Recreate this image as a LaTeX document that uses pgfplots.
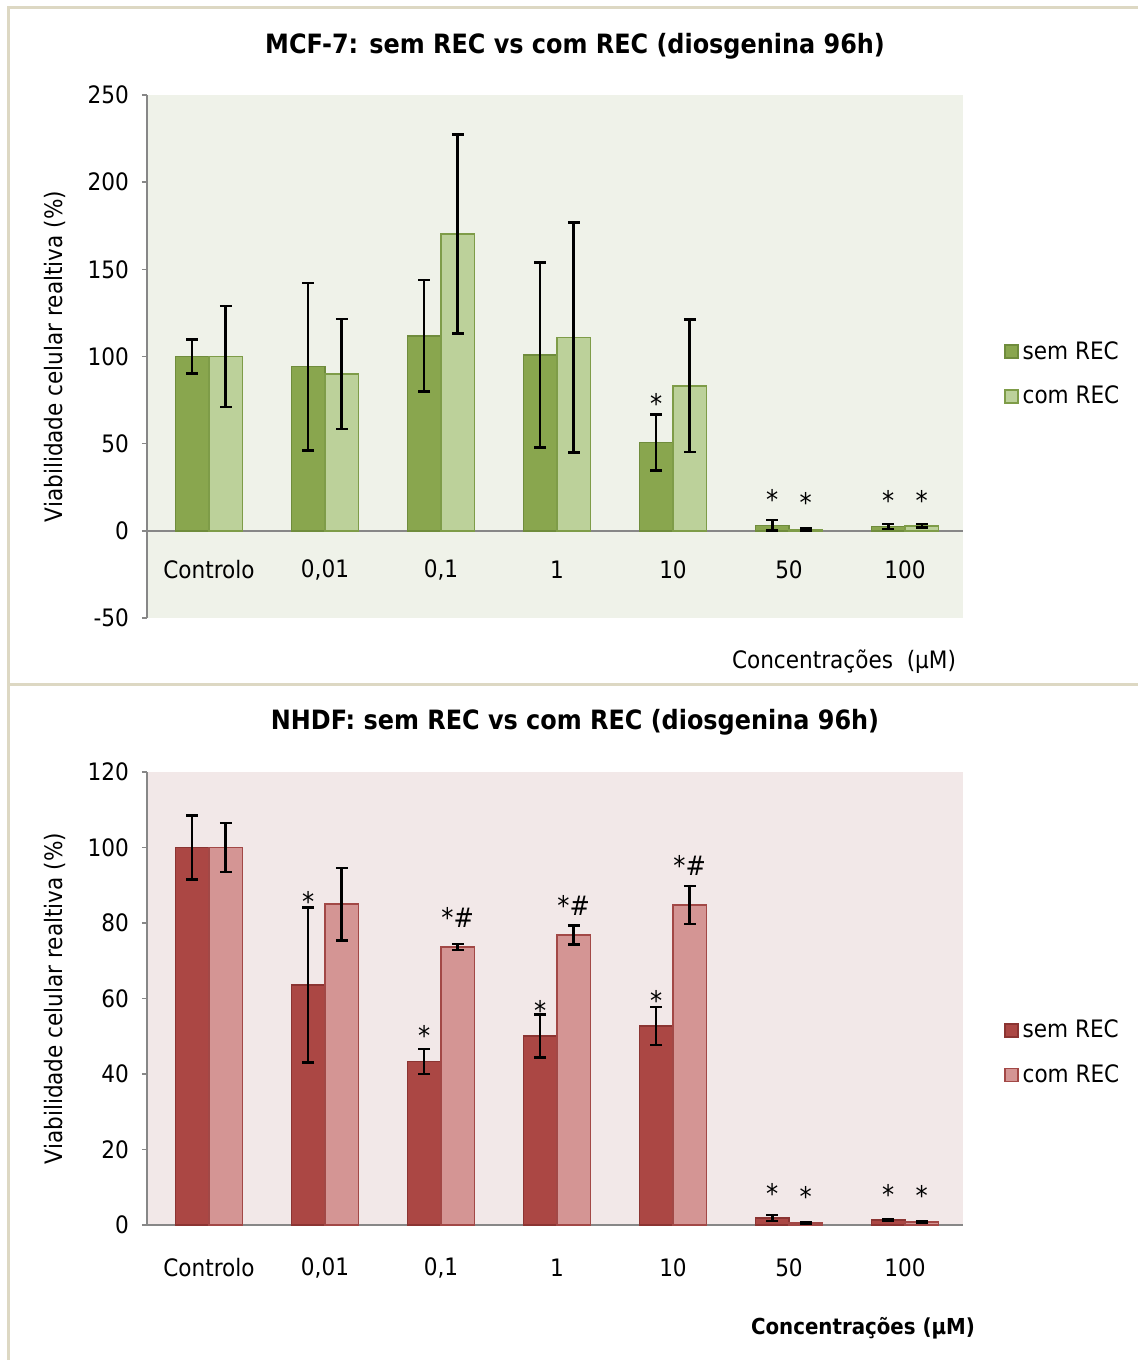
\documentclass[border=0pt]{standalone}
\usepackage{fontspec}
\setmainfont{DejaVu Sans Condensed}
\usepackage{pgfplots}
\pgfplotsset{compat=1.18}
\definecolor{gdark}{HTML}{89A64E}
\definecolor{gdarkedge}{HTML}{6F8C3C}
\definecolor{glight}{HTML}{BCD19A}
\definecolor{glightedge}{HTML}{7E9C48}
\definecolor{gbg}{HTML}{EFF2E9}
\definecolor{rdark}{HTML}{AB4744}
\definecolor{rdarkedge}{HTML}{8B3432}
\definecolor{rlight}{HTML}{D49594}
\definecolor{rlightedge}{HTML}{A24846}
\definecolor{rbg}{HTML}{F2E8E8}
\definecolor{axgray}{HTML}{878787}
\definecolor{frame}{HTML}{DDD8C3}
\pgfplotsset{
  common/.style={
    scale only axis, width=408pt,
    xmin=-0.534, xmax=6.5,
    xtick={0,...,6},
    xticklabels={Controlo,{0,01},{0,1},1,10,50,100},
    tick align=outside, major tick length=2.5pt,
    xtick style={draw=none},
    ytick style={draw=axgray, line width=0.75pt},
    axis line style={draw=axgray, line width=0.75pt},
    /pgf/number format/assume math mode=true,
    tick label style={font=\fontsize{12}{14}\selectfont},
    yticklabel style={xshift=-3pt},
    every axis y label/.style={at={(rel axis cs:0,0.5)}, xshift=-46pt, rotate=90, anchor=center, font=\fontsize{12}{14}\selectfont},
    legend style={draw=none, fill=none, font=\fontsize{12}{14}\selectfont, row sep=8pt, inner sep=0pt},
    legend cell align=left,
    legend image code/.code={\draw[##1, line width=0.6pt] (0pt,-3.25pt) rectangle (6.5pt,3.25pt);},
    clip=false,
  },
  errs/.style={
    /pgfplots/error bars/y dir=both,
    /pgfplots/error bars/y explicit,
    /pgfplots/error bars/error bar style={black, line width=1.25pt},
    /pgfplots/error bars/error mark options={black, rotate=90, mark size=2.9pt, line width=1.25pt}},
  bars/.style={ybar, bar width=16.75pt, bar shift=0pt, line width=0.75pt, errs},
  stars/.style={only marks, mark=none, nodes near coords={#1},
    nodes near coords style={anchor=base, inner sep=0pt, font=\fontsize{13.5}{15}\selectfont, black}},
}
\begin{document}
\begin{tikzpicture}
\useasboundingbox (0,0) rectangle (569pt,680pt);
\fill[white] (0,0) rectangle (569pt,680pt);
\draw[frame, line width=1.5pt] (4pt,337.5pt) rectangle (580pt,676pt);
\draw[frame, line width=1.5pt] (4pt,-10pt) rectangle (580pt,337.5pt);

% ---------- Top panel ----------
\begin{axis}[common,
  at={(73.5pt,371pt)}, anchor=south west, height=261.5pt,
  ymin=-50, ymax=250, ytick={-50,0,50,100,150,200,250},
  axis x line*=middle, axis y line*=left,
  xticklabel style={anchor=center, yshift=-17pt},
  axis background/.style={fill=gbg},
  ylabel={Viabilidade celular realtiva (\%)},
  legend style={at={(rel axis cs:1,0.4665)}, anchor=west, xshift=20.5pt},
]
\addplot[bars, fill=gdark, draw=gdarkedge]
  table[x=x, y=y, y error=e] {
x y e
-0.1444 100 9.7
0.8556 94.2 48
1.8556 111.8 32
2.8556 100.9 53
3.8556 50.6 16
4.8556 3.1 3
5.8556 2.5 1.5
};
\addlegendentry{sem REC}
\addplot[bars, fill=glight, draw=glightedge]
  table[x=x, y=y, y error=e] {
x y e
0.1444 100 29
1.1444 90 31.5
2.1444 170.3 57
3.1444 110.9 66
4.1444 83.1 38
5.1444 0.7 0.5
6.1444 2.8 1
};
\addlegendentry{com REC}
\addplot[stars={*}] table[x=x, y=y] {
x y
3.8556 67.5
4.8556 12.3
5.1444 10.7
5.8556 11.7
6.1444 11.7
};
\end{axis}

% ---------- Bottom panel ----------
\begin{axis}[common,
  at={(73.5pt,67.5pt)}, anchor=south west, height=226.5pt,
  ymin=0, ymax=120, ytick={0,20,...,120},
  axis x line*=bottom, axis y line*=left,
  xticklabel style={anchor=center, yshift=-19pt},
  axis background/.style={fill=rbg},
  ylabel={Viabilidade celular realtiva (\%)},
  legend style={at={(rel axis cs:1,0.38)}, anchor=west, xshift=20.5pt},
]
\addplot[bars, fill=rdark, draw=rdarkedge]
  table[x=x, y=y, y error=e] {
x y e
-0.1444 100 8.5
0.8556 63.6 20.5
1.8556 43.3 3.3
2.8556 50.1 5.7
3.8556 52.7 5
4.8556 1.8 0.8
5.8556 1.3 0.3
};
\addlegendentry{sem REC}
\addplot[bars, fill=rlight, draw=rlightedge]
  table[x=x, y=y, y error=e] {
x y e
0.1444 100 6.5
1.1444 85 9.6
2.1444 73.7 0.8
3.1444 76.8 2.5
4.1444 84.8 5
5.1444 0.5 0.3
6.1444 0.8 0.3
};
\addlegendentry{com REC}
\addplot[stars={*}] table[x=x, y=y] {
x y
0.8556 83.0
1.8556 47.6
2.8556 54.3
3.8556 56.9
4.8556 5.7
5.1444 4.8
5.8556 5.5
6.1444 5.1
};
\addplot[stars={*\#}] table[x=x, y=y] {
x y
2.1444 78.8
3.1444 81.9
4.1444 92.7
};
\end{axis}

\node[font=\bfseries\fontsize{13.3}{15}\selectfont] at (287.5pt,657pt) {MCF-7: sem REC vs com REC (diosgenina 96h)};
\node[font=\bfseries\fontsize{13.3}{15}\selectfont] at (287.5pt,319pt) {NHDF: sem REC vs com REC (diosgenina 96h)};
\node[font=\fontsize{12}{14}\selectfont] at (422pt,349pt) {Concentrações\ \ (µM)};
\node[font=\bfseries\fontsize{11}{13}\selectfont] at (431.5pt,16pt) {Concentrações (µM)};
\end{tikzpicture}
\end{document}
